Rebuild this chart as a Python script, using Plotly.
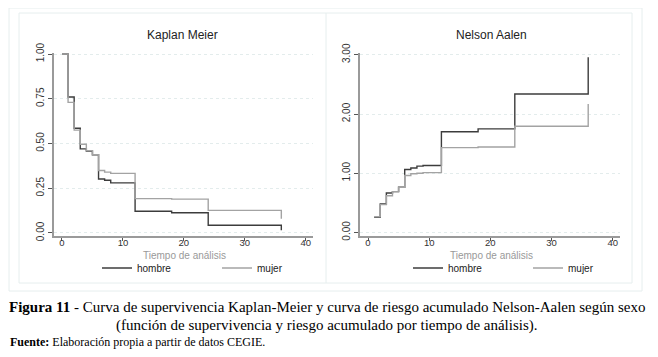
import plotly.graph_objects as go

# the page body has an 8px margin, so the figure is sized to fit inside the window
W, H = 642, 341
OFF = 8

# ---- data ----
km_t_hombre = [0, 1, 2, 3, 4, 5, 6, 7, 8, 12, 18, 24, 36, 36]
km_s_hombre = [1.0, 0.76, 0.585, 0.47, 0.458, 0.437, 0.302, 0.295, 0.28, 0.121, 0.113, 0.043, 0.043, 0.015]
km_t_mujer = [0, 1, 2, 3, 4, 5, 6, 7, 8, 12, 18, 24, 36, 36]
km_s_mujer = [1.0, 0.73, 0.575, 0.496, 0.46, 0.437, 0.349, 0.34, 0.333, 0.192, 0.189, 0.126, 0.126, 0.08]

na_t_hombre = [1, 2, 3, 4, 5, 6, 7, 8, 9, 12, 18, 24, 36, 36]
na_h_hombre = [0.255, 0.48, 0.667, 0.69, 0.764, 1.064, 1.087, 1.12, 1.13, 1.70, 1.749, 2.337, 2.337, 2.96]
na_t_mujer = [1, 2, 3, 4, 5, 6, 7, 8, 9, 12, 18, 24, 36, 36]
na_h_mujer = [0.266, 0.47, 0.62, 0.69, 0.764, 0.962, 0.99, 1.0, 1.01, 1.432, 1.443, 1.794, 1.794, 2.17]

x_ticks = [0, 10, 20, 30, 40]
km_y_ticks = [0, 0.25, 0.5, 0.75, 1.0]
na_y_ticks = [0, 1, 2, 3]

series_names = ["hombre", "mujer"]
col_hombre = "#3c3c3c"
col_mujer = "#a3a3a3"

fig = go.Figure()

def px(x):
    return (x - OFF) / W

def py(y):
    return 1 - (y - OFF) / H

fig.add_trace(go.Scatter(x=km_t_hombre, y=km_s_hombre, mode="lines", line_shape="hv",
                         line=dict(color=col_hombre, width=1.4), name=series_names[0],
                         xaxis="x", yaxis="y", legend="legend"))
fig.add_trace(go.Scatter(x=km_t_mujer, y=km_s_mujer, mode="lines", line_shape="hv",
                         line=dict(color=col_mujer, width=1.4), name=series_names[1],
                         xaxis="x", yaxis="y", legend="legend"))
fig.add_trace(go.Scatter(x=na_t_hombre, y=na_h_hombre, mode="lines", line_shape="hv",
                         line=dict(color=col_hombre, width=1.4), name=series_names[0],
                         xaxis="x2", yaxis="y2", legend="legend2"))
fig.add_trace(go.Scatter(x=na_t_mujer, y=na_h_mujer, mode="lines", line_shape="hv",
                         line=dict(color=col_mujer, width=1.4), name=series_names[1],
                         xaxis="x2", yaxis="y2", legend="legend2"))

tickfont = dict(family="Liberation Sans, Arial", size=10, color="#333")
xtickfont = dict(family="Liberation Sans, Arial", size=9.5, color="#333")
grid_col = "#e3ecec"

def xaxis(domain, anchor):
    return dict(domain=domain, anchor=anchor, range=[-1.31, 41.2], tickvals=x_ticks,
                showgrid=False, zeroline=False, showline=True, linecolor="#9a9a9a", linewidth=1.5,
                ticks="outside", ticklen=3, tickcolor="#555", tickfont=xtickfont,
                ticklabelstandoff=-6, automargin=False, fixedrange=True)

def yaxis(domain, anchor, rng, tv):
    return dict(domain=domain, anchor=anchor, range=rng, tickvals=tv, tickformat=".2f",
                tickangle=-90, showgrid=True, gridcolor=grid_col, griddash="dot", gridwidth=1,
                zeroline=False, showline=True, linecolor="#9a9a9a", linewidth=1.5,
                ticks="outside", ticklen=4, tickcolor="#555", tickfont=tickfont,
                automargin=False, fixedrange=True)

ydom = [py(236), py(53)]
legfont = dict(family="Liberation Sans, Arial", size=10, color="#222")
fig.update_layout(
    width=W, height=H, margin=dict(l=0, r=0, t=0, b=0, autoexpand=False),
    paper_bgcolor="white", plot_bgcolor="white",
    xaxis=xaxis([px(54), px(313)], "y"),
    yaxis=yaxis(ydom, "x", [-0.017, 1.006], km_y_ticks),
    xaxis2=xaxis([px(360), px(620)], "y2"),
    yaxis2=yaxis(ydom, "x2", [-0.06, 3.03], na_y_ticks),
    legend=dict(orientation="h", x=px(97), y=py(268), xanchor="left", yanchor="middle",
                entrywidth=75, font=legfont, bgcolor="rgba(0,0,0,0)"),
    legend2=dict(orientation="h", x=px(408), y=py(268), xanchor="left", yanchor="middle",
                 entrywidth=75, font=legfont, bgcolor="rgba(0,0,0,0)"),
    showlegend=True,
)

frame_col = "#e6eeee"
shapes = [
    dict(type="rect", xref="paper", yref="paper", x0=px(9), x1=px(642), y0=py(291), y1=py(8),
         line=dict(color=frame_col, width=1)),
    dict(type="rect", xref="paper", yref="paper", x0=px(19), x1=px(632), y0=py(283), y1=py(13),
         line=dict(color=frame_col, width=1)),
    dict(type="line", xref="paper", yref="paper", x0=px(326), x1=px(326), y0=py(283), y1=py(13),
         line=dict(color=frame_col, width=1)),
]
fig.update_layout(shapes=shapes)

sans = "Liberation Sans, Arial"
serif = "Liberation Serif, Times New Roman"
ann = [
    dict(text="Kaplan Meier", x=px(183), y=py(35), font=dict(family=sans, size=12, color="#222")),
    dict(text="Nelson Aalen", x=px(491), y=py(35), font=dict(family=sans, size=12, color="#222")),
    dict(text="Tiempo de análisis", x=px(185), y=py(255.5), font=dict(family=sans, size=10, color="#999")),
    dict(text="Tiempo de análisis", x=px(491), y=py(255.5), font=dict(family=sans, size=10, color="#999")),
    dict(text="<b>Figura 11</b> - Curva de supervivencia Kaplan-Meier y curva de riesgo acumulado Nelson-Aalen según sexo",
         x=px(327), y=py(307), font=dict(family=serif, size=15, color="black")),
    dict(text="(función de supervivencia y riesgo acumulado por tiempo de análisis).",
         x=px(327), y=py(325), font=dict(family=serif, size=15, color="black")),
    dict(text="<b>Fuente:</b> Elaboración propia a partir de datos CEGIE.",
         x=0, y=py(342), xanchor="left", font=dict(family=serif, size=12, color="black")),
]
for a in ann:
    a.setdefault("xanchor", "center")
    a.update(xref="paper", yref="paper", yanchor="middle", showarrow=False)
fig.update_layout(annotations=ann)

fig.write_html("out.html")
